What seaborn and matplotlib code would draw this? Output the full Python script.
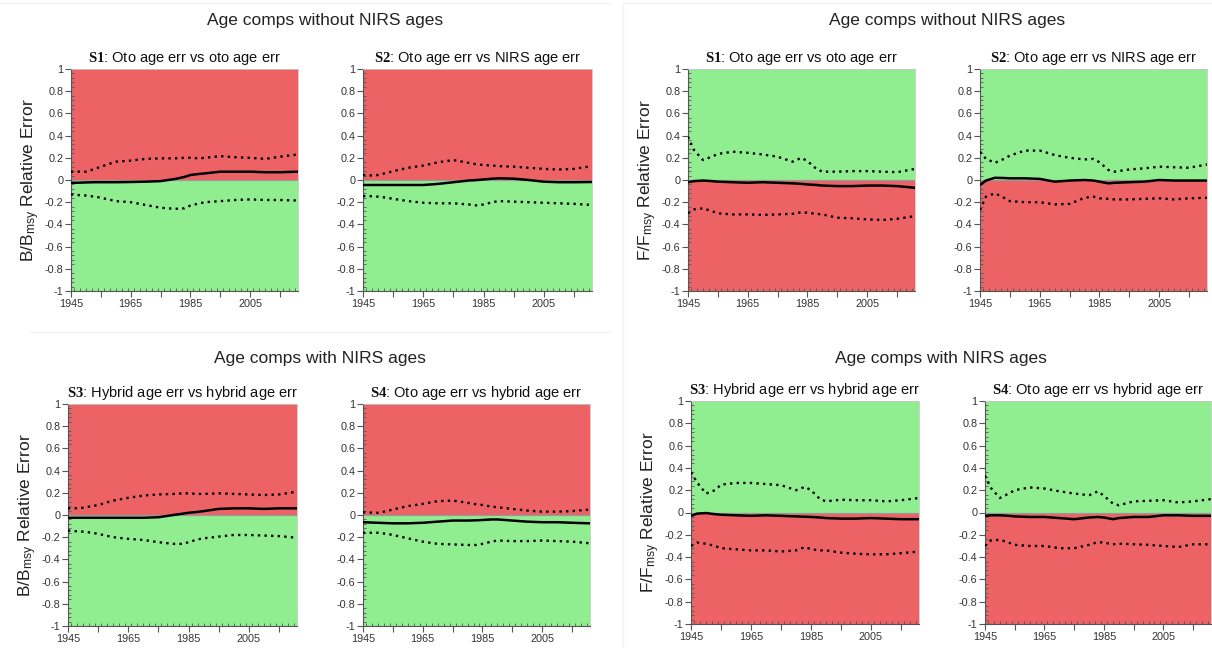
import matplotlib
matplotlib.use("Agg")
import matplotlib.pyplot as plt
from matplotlib.lines import Line2D
from matplotlib.ticker import MultipleLocator, FixedLocator, FuncFormatter
import seaborn as sns
import pandas as pd

# ---- data ----
years = [1945, 1947, 1950, 1953, 1955, 1960, 1965, 1970, 1975, 1980,
         1983, 1985, 1988, 1990, 1995, 2000, 2005, 2010, 2015, 2021]

# B/Bmsy, age comps without NIRS ages
bb_s1_upper = [0.075, 0.075, 0.075, 0.10, 0.12, 0.165, 0.175, 0.19, 0.195, 0.195,
               0.2, 0.2, 0.195, 0.2, 0.215, 0.205, 0.2, 0.19, 0.21, 0.23]
bb_s1_median = [-0.025, -0.025, -0.022, -0.02, -0.02, -0.02, -0.018, -0.015, -0.01, 0.01,
                0.028, 0.045, 0.055, 0.06, 0.075, 0.075, 0.075, 0.07, 0.07, 0.075]
bb_s1_lower = [-0.13, -0.135, -0.14, -0.15, -0.16, -0.19, -0.2, -0.225, -0.25, -0.26,
               -0.255, -0.23, -0.21, -0.2, -0.19, -0.18, -0.175, -0.18, -0.18, -0.185]

bb_s2_upper = [0.045, 0.04, 0.045, 0.065, 0.08, 0.11, 0.13, 0.16, 0.18, 0.155,
               0.14, 0.135, 0.13, 0.125, 0.12, 0.11, 0.1, 0.095, 0.1, 0.125]
bb_s2_median = [-0.045, -0.045, -0.045, -0.045, -0.045, -0.045, -0.045, -0.035, -0.02, -0.005,
                0.0, 0.005, 0.012, 0.015, 0.012, 0.0, -0.015, -0.02, -0.02, -0.018]
bb_s2_lower = [-0.145, -0.145, -0.15, -0.16, -0.17, -0.19, -0.205, -0.21, -0.21, -0.22,
               -0.23, -0.22, -0.2, -0.19, -0.195, -0.2, -0.205, -0.21, -0.215, -0.225]

# F/Fmsy, age comps without NIRS ages
ff_s1_upper = [0.39, 0.27, 0.18, 0.21, 0.235, 0.255, 0.245, 0.23, 0.21, 0.165,
               0.2, 0.17, 0.1, 0.075, 0.075, 0.08, 0.08, 0.075, 0.07, 0.1]
ff_s1_median = [-0.02, -0.01, -0.005, -0.01, -0.015, -0.02, -0.025, -0.02, -0.025, -0.03,
                -0.035, -0.04, -0.045, -0.05, -0.055, -0.055, -0.05, -0.05, -0.055, -0.07]
ff_s1_lower = [-0.3, -0.265, -0.255, -0.28, -0.3, -0.31, -0.31, -0.315, -0.31, -0.305,
               -0.29, -0.295, -0.305, -0.31, -0.34, -0.345, -0.355, -0.36, -0.35, -0.325]

ff_s2_upper = [0.255, 0.19, 0.155, 0.19, 0.22, 0.265, 0.265, 0.225, 0.2, 0.185,
               0.19, 0.16, 0.09, 0.075, 0.095, 0.105, 0.12, 0.115, 0.11, 0.14]
ff_s2_median = [-0.045, -0.005, 0.02, 0.018, 0.015, 0.015, 0.01, -0.015, -0.005, 0.0,
                -0.005, -0.015, -0.03, -0.025, -0.02, -0.015, 0.0, -0.005, -0.005, -0.005]
ff_s2_lower = [-0.27, -0.15, -0.12, -0.16, -0.19, -0.2, -0.2, -0.22, -0.215, -0.16,
               -0.15, -0.165, -0.17, -0.175, -0.175, -0.17, -0.165, -0.175, -0.165, -0.16]

# B/Bmsy, age comps with NIRS ages
bb_s3_upper = [0.06, 0.06, 0.065, 0.08, 0.09, 0.13, 0.155, 0.175, 0.185, 0.19,
               0.195, 0.195, 0.19, 0.19, 0.195, 0.19, 0.185, 0.18, 0.185, 0.21]
bb_s3_median = [-0.025, -0.025, -0.025, -0.025, -0.025, -0.025, -0.025, -0.025, -0.02, 0.0,
                0.012, 0.02, 0.028, 0.035, 0.055, 0.06, 0.06, 0.055, 0.06, 0.06]
bb_s3_lower = [-0.14, -0.145, -0.15, -0.16, -0.17, -0.2, -0.215, -0.225, -0.245, -0.26,
               -0.26, -0.245, -0.22, -0.21, -0.195, -0.18, -0.18, -0.185, -0.19, -0.205]

bb_s4_upper = [0.025, 0.022, 0.02, 0.035, 0.05, 0.08, 0.1, 0.125, 0.13, 0.11,
               0.095, 0.09, 0.075, 0.07, 0.055, 0.04, 0.03, 0.03, 0.035, 0.05]
bb_s4_median = [-0.065, -0.067, -0.07, -0.073, -0.075, -0.075, -0.07, -0.06, -0.05, -0.05,
                -0.048, -0.045, -0.04, -0.04, -0.05, -0.06, -0.065, -0.065, -0.07, -0.075]
bb_s4_lower = [-0.16, -0.16, -0.16, -0.17, -0.18, -0.21, -0.24, -0.26, -0.265, -0.27,
               -0.27, -0.26, -0.24, -0.23, -0.235, -0.235, -0.23, -0.235, -0.24, -0.255]

# F/Fmsy, age comps with NIRS ages
ff_s3_upper = [0.36, 0.27, 0.17, 0.2, 0.25, 0.265, 0.265, 0.255, 0.245, 0.2,
               0.23, 0.2, 0.12, 0.1, 0.115, 0.11, 0.11, 0.1, 0.11, 0.13]
ff_s3_median = [-0.03, -0.01, -0.005, -0.015, -0.02, -0.025, -0.03, -0.025, -0.03, -0.035,
                -0.038, -0.04, -0.045, -0.05, -0.055, -0.055, -0.05, -0.055, -0.06, -0.06]
ff_s3_lower = [-0.3, -0.27, -0.28, -0.3, -0.32, -0.33, -0.34, -0.34, -0.35, -0.34,
               -0.31, -0.33, -0.34, -0.34, -0.36, -0.37, -0.375, -0.375, -0.365, -0.35]

ff_s4_upper = [0.33, 0.22, 0.13, 0.17, 0.2, 0.225, 0.215, 0.19, 0.17, 0.155,
               0.19, 0.15, 0.08, 0.065, 0.1, 0.105, 0.11, 0.09, 0.1, 0.12]
ff_s4_median = [-0.03, -0.025, -0.025, -0.03, -0.035, -0.04, -0.04, -0.05, -0.06, -0.045,
                -0.04, -0.045, -0.06, -0.05, -0.04, -0.04, -0.025, -0.025, -0.03, -0.03]
ff_s4_lower = [-0.3, -0.25, -0.245, -0.27, -0.29, -0.3, -0.3, -0.32, -0.32, -0.29,
               -0.265, -0.27, -0.285, -0.28, -0.285, -0.29, -0.3, -0.31, -0.285, -0.285]

scenario_ids = ["S1", "S2", "S3", "S4"]
scenario_text = ["Oto age err vs oto age err", "Oto age err vs NIRS age err",
                 "Hybrid age err vs hybrid age err", "Oto age err vs hybrid age err"]
group_titles = ["Age comps without NIRS ages", "Age comps with NIRS ages"]
ylabels = {"B": r"B/B$_{\mathrm{msy}}$ Relative Error",
           "F": r"F/F$_{\mathrm{msy}}$ Relative Error"}

# ---- style ----
sns.set_style("ticks")
plt.rcParams["font.family"] = ["Liberation Sans", "DejaVu Sans"]
plt.rcParams["mathtext.fontset"] = "custom"
plt.rcParams["mathtext.rm"] = "Liberation Sans"
plt.rcParams["mathtext.it"] = "Liberation Sans:italic"
plt.rcParams["mathtext.bf"] = "Liberation Serif:bold"

RED = "#ec6265"
GREEN = "#90ee90"
W, H = 1212, 648

fig = plt.figure(figsize=(W / 100, H / 100), dpi=100)


def px_axes(x0, y0, x1, y1):
    return fig.add_axes([x0 / W, 1 - y1 / H, (x1 - x0) / W, (y1 - y0) / H])


def fmt(v, _):
    v = round(v, 2)
    if abs(v) < 1e-9:
        return "0"
    return f"{v:g}"


panels = [
    # (kind, scenario index, upper, median, lower, pixel box)
    ("B", 0, bb_s1_upper, bb_s1_median, bb_s1_lower, (71, 69, 298, 291)),
    ("B", 1, bb_s2_upper, bb_s2_median, bb_s2_lower, (363, 69, 592, 291)),
    ("F", 0, ff_s1_upper, ff_s1_median, ff_s1_lower, (688, 69, 915, 291)),
    ("F", 1, ff_s2_upper, ff_s2_median, ff_s2_lower, (980, 69, 1207, 291)),
    ("B", 2, bb_s3_upper, bb_s3_median, bb_s3_lower, (68, 404, 297, 626)),
    ("B", 3, bb_s4_upper, bb_s4_median, bb_s4_lower, (363, 404, 590, 626)),
    ("F", 2, ff_s3_upper, ff_s3_median, ff_s3_lower, (691, 401, 919, 624)),
    ("F", 3, ff_s4_upper, ff_s4_median, ff_s4_lower, (985, 401, 1211, 624)),
]

for i, (kind, s, up, med, lo, box) in enumerate(panels):
    ax = px_axes(*box)
    top, bottom = (RED, GREEN) if kind == "B" else (GREEN, RED)
    ax.axhspan(0, 1, color=top, lw=0, zorder=0)
    ax.axhspan(-1, 0, color=bottom, lw=0, zorder=0)
    ax.axhline(0, color="#9a9a9a", lw=0.9, zorder=1)

    df = pd.DataFrame({"year": years, "upper": up, "median": med, "lower": lo})
    sns.lineplot(data=df, x="year", y="upper", ax=ax, color="black",
                 lw=1.7, linestyle=(0, (1, 1.8)), zorder=3)
    sns.lineplot(data=df, x="year", y="lower", ax=ax, color="black",
                 lw=1.7, linestyle=(0, (1, 1.8)), zorder=3)
    sns.lineplot(data=df, x="year", y="median", ax=ax, color="black",
                 lw=1.8, zorder=4)

    ax.set_xlim(1945, 2021)
    ax.set_ylim(-1, 1)
    ax.set_xlabel("")
    ax.set_ylabel("")
    ax.xaxis.set_major_locator(FixedLocator(list(range(1945, 2021, 10))))
    ax.xaxis.set_major_formatter(FuncFormatter(lambda v, _: f"{int(v)}" if (int(v) - 1945) % 20 == 0 else ""))
    ax.xaxis.set_minor_locator(MultipleLocator(2))
    ax.yaxis.set_major_locator(MultipleLocator(0.2))
    ax.yaxis.set_minor_locator(MultipleLocator(0.04))
    ax.yaxis.set_major_formatter(FuncFormatter(fmt))
    ax.tick_params(which="major", direction="out", length=4, width=0.8,
                   color="#555555", labelsize=7.8, labelcolor="#333333", pad=1.5)
    ax.tick_params(which="minor", direction="in", length=2, width=0.6, color="#555555")
    for side in ("left", "bottom"):
        ax.spines[side].set_color("#555555")
        ax.spines[side].set_linewidth(0.8)
    for side in ("top", "right"):
        ax.spines[side].set_color("#c8c8c8")
        ax.spines[side].set_linewidth(0.6)

    ax.set_title(r"$\mathbf{" + scenario_ids[s] + "}$: " + scenario_text[s],
                 fontsize=10.5, pad=5, color="#111111")
    if i % 2 == 0:
        ax.set_ylabel(ylabels[kind], fontsize=12.5, labelpad=2, color="#222222")

# group titles
for (x, y, t) in [(325, 20, group_titles[0]), (947, 20, group_titles[0]),
                  (320, 358, group_titles[1]), (941, 358, group_titles[1])]:
    fig.text(x / W, 1 - y / H, t, ha="center", va="center", fontsize=12.5, color="#222222")

# faint frame lines between the four blocks
for (x0, y0, x1, y1) in [(30, 332, 610, 332), (623, 5, 623, 648),
                         (0, 3, 610, 3), (623, 3, 1212, 3)]:
    fig.add_artist(Line2D([x0 / W, x1 / W], [1 - y0 / H, 1 - y1 / H],
                          transform=fig.transFigure, color="#f2f2f2", lw=1))

fig.savefig("out.png", dpi=100)
